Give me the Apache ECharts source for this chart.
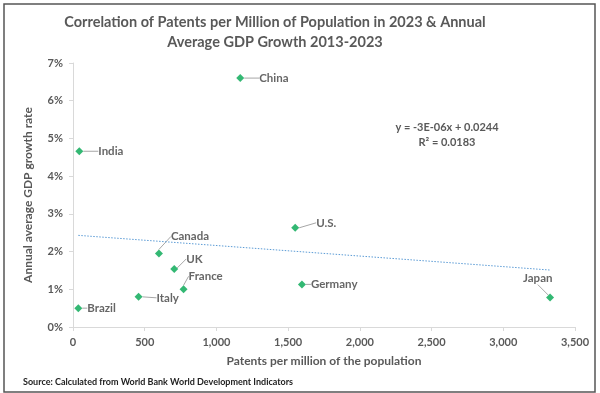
<!DOCTYPE html>
<html><head><meta charset="utf-8">
<script src="https://cdn.jsdelivr.net/npm/echarts@6/dist/echarts.min.js"></script>
<style>html,body{margin:0;padding:0;background:#fff}#c{width:600px;height:393px}</style>
</head><body><div id="c"></div>
<script>
var countries = ['China','India','Canada','UK','France','Italy','Brazil','U.S.','Germany','Japan'];
var patents   = [1166, 44, 599, 706, 771, 457, 37, 1549, 1596, 3326];
var gdpGrowth = [6.60, 4.66, 1.95, 1.54, 1.00, 0.80, 0.50, 2.63, 1.13, 0.78];
var trendX = [37, 3326];
var trendY = [2.43, 1.51];
var xTicks = [0, 500, 1000, 1500, 2000, 2500, 3000, 3500];
var yTicks = [0, 1, 2, 3, 4, 5, 6, 7];

var labelOffsets = {
  'China':[10,0],'India':[10,0],'Canada':[3,-17],'UK':[3,-10],'France':[-4,-13],
  'Italy':[9,1],'Brazil':[0,0],'U.S.':[12,-5],'Germany':[0,0],'Japan':[-36,-19]
};

var pts = countries.map(function(c,i){ return {name:c, value:[patents[i], gdpGrowth[i]]}; });
var trend = trendX.map(function(x,i){ return [x, trendY[i]]; });

var F = 'Lato, "Open Sans", sans-serif';
var chart = echarts.init(document.getElementById('c'));
chart.setOption({
  animation:false,
  graphic:[
    {type:'rect', shape:{x:4,y:4,width:591,height:388}, style:{fill:'none',stroke:'#555',lineWidth:1.5}, silent:true},
    {type:'text', x:275, y:22, style:{text:'Correlation of Patents per Million of Population in 2023 & Annual', font:'bold 14.5px '+F, fill:'#595959', textAlign:'center', textVerticalAlign:'middle'}},
    {type:'text', x:275, y:42, style:{text:'Average GDP Growth 2013-2023', font:'bold 14.5px '+F, fill:'#595959', textAlign:'center', textVerticalAlign:'middle'}},
    {type:'text', x:447, y:127, style:{text:'y = -3E-06x + 0.0244', font:'bold 11px '+F, fill:'#595959', textAlign:'center', textVerticalAlign:'middle'}},
    {type:'text', x:447, y:142, style:{text:'R\u00b2 = 0.0183', font:'bold 11px '+F, fill:'#595959', textAlign:'center', textVerticalAlign:'middle'}},
    {type:'text', x:23, y:382, style:{text:'Source: Calculated from World Bank World Development Indicators', font:'bold 9px '+F, fill:'#222', textAlign:'left', textVerticalAlign:'middle'}}
  ],
  grid:{left:73, right:25, top:63, bottom:66},
  xAxis:{
    type:'value', min:xTicks[0], max:xTicks[xTicks.length-1], interval:500,
    name:'Patents per million of the population', nameLocation:'middle', nameGap:28,
    nameTextStyle:{color:'#595959', fontFamily:F, fontWeight:'bold', fontSize:12},
    axisLine:{show:true, lineStyle:{color:'#d9d9d9'}},
    axisTick:{show:true, length:4, lineStyle:{color:'#d9d9d9'}},
    splitLine:{show:false},
    axisLabel:{color:'#595959', fontFamily:F, fontWeight:'bold', fontSize:11, margin:10,
      formatter:function(v){ return v.toLocaleString('en-US'); }}
  },
  yAxis:{
    type:'value', min:yTicks[0], max:yTicks[yTicks.length-1], interval:1,
    name:'Annual average GDP growth rate', nameLocation:'middle', nameGap:39,
    nameTextStyle:{color:'#595959', fontFamily:F, fontWeight:'bold', fontSize:12},
    axisLine:{show:true, lineStyle:{color:'#d9d9d9'}},
    axisTick:{show:true, length:4, lineStyle:{color:'#d9d9d9'}},
    splitLine:{show:false},
    axisLabel:{color:'#595959', fontFamily:F, fontWeight:'bold', fontSize:11, margin:10,
      formatter:function(v){ return v + '%'; }}
  },
  series:[
    {type:'line', data:trend, symbol:'none', silent:true,
      lineStyle:{color:'#5b9bd5', width:1, type:[1.5,1.5]}},
    {type:'scatter', data:pts, symbol:'diamond', symbolSize:8,
      itemStyle:{color:'#00a650'},
      label:{show:true, position:'right', distance:5, formatter:'{b}',
        color:'#404040', fontFamily:F, fontWeight:'bold', fontSize:11.5},
      labelLine:{show:true, length2:0, lineStyle:{color:'#a6a6a6', width:1}},
      labelLayout:function(p){ var o = labelOffsets[countries[p.dataIndex]]; return {dx:o[0], dy:o[1]}; }
    }
  ]
});
</script></body></html>
